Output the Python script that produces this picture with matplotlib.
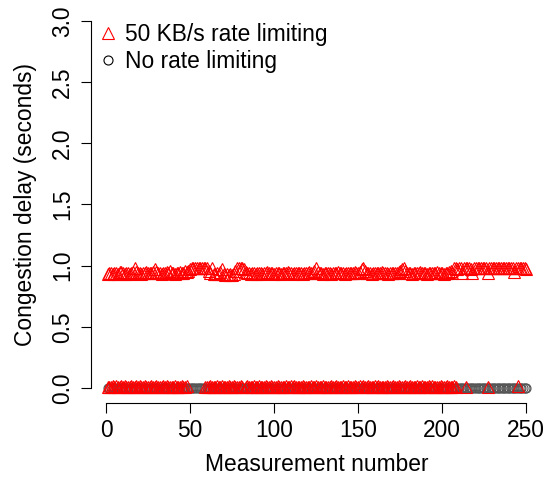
import matplotlib
matplotlib.use("Agg")
import matplotlib.pyplot as plt
from matplotlib.lines import Line2D

# ---- data ----
rate_high = [
    0.93,0.94,0.94,0.93,0.94,0.94,0.93,0.95,0.95,0.94,0.93,0.94,0.94,0.93,0.94,0.95,0.98,0.95,0.94,0.94,0.93,0.94,0.94,0.95,0.94,
    0.94,0.94,0.95,0.97,0.95,0.94,0.94,0.93,0.94,0.94,0.95,0.94,0.96,0.94,0.94,0.93,0.94,0.94,0.95,0.94,0.94,0.96,0.95,0.96,0.97,
    0.98,0.98,0.98,0.98,0.98,0.98,0.98,0.98,0.98,0.98,0.96,0.94,0.98,0.93,0.93,0.94,0.93,0.95,0.97,0.93,0.92,0.93,0.92,0.93,0.92,
    0.93,0.96,0.98,0.98,0.98,0.98,0.97,0.95,0.94,0.94,0.93,0.94,0.94,0.93,0.94,0.94,0.94,0.93,0.94,0.94,0.95,0.94,0.94,0.94,0.93,
    0.94,0.94,0.94,0.93,0.94,0.94,0.94,0.95,0.94,0.94,0.93,0.94,0.94,0.94,0.94,0.94,0.93,0.94,0.94,0.94,0.95,0.94,0.94,0.96,0.98,
    0.95,0.94,0.94,0.93,0.94,0.94,0.94,0.94,0.93,0.94,0.94,0.94,0.95,0.94,0.94,0.94,0.93,0.94,0.94,0.94,0.94,0.94,0.95,0.94,0.94,
    0.95,0.97,0.98,0.96,0.94,0.94,0.94,0.93,0.94,0.94,0.94,0.94,0.94,0.95,0.94,0.94,0.94,0.93,0.94,0.94,0.94,0.94,0.94,0.95,0.96,
    0.97,0.98,0.96,0.94,0.94,0.94,0.93,0.94,0.94,0.94,0.94,0.95,0.94,0.94,0.94,0.93,0.94,0.94,0.94,0.94,0.94,0.95,0.94,0.94,0.94,
    0.93,0.94,0.94,0.95,0.96,0.94,0.98,0.98,0.97,0.98,0.98,0.94,0.98,0.98,0.98,0.98,0.97,0.94,0.98,0.98,0.98,0.98,0.98,0.98,0.98,
    0.98,0.94,0.98,0.98,0.98,0.98,0.98,0.98,0.98,0.98,0.98,0.98,0.98,0.98,0.98,0.98,0.98,0.95,0.98,0.98,0.98,0.98,0.98,0.98,0.97,
]
rate_high_x = list(range(1, 251))

rate_low_x = list(range(1, 49)) + list(range(59, 82)) + list(range(83, 209)) + [214, 227, 245]
rate_low = [
    0.010,0.012,0.008,0.015,0.011,0.020,0.009,0.011,0.013,0.010,0.016,0.009,0.012,0.010,0.018,0.011,0.008,0.013,0.010,0.014,
    0.011,0.009,0.017,0.010,0.012,0.008,0.014,0.011,0.010,0.019,0.009,0.012,0.010,0.013,0.008,0.015,0.011,0.010,0.012,0.009,
    0.016,0.010,0.011,0.008,0.013,0.010,0.012,0.018,0.009,0.011,0.010,0.014,0.009,0.012,0.010,0.017,0.011,0.008,0.013,0.010,
    0.012,0.009,0.015,0.010,0.011,0.013,0.008,0.012,0.010,0.019,0.011,0.009,0.014,0.010,0.012,0.008,0.016,0.011,0.010,0.013,
    0.010,0.012,0.009,0.017,0.011,0.010,0.013,0.008,0.012,0.010,0.015,0.009,0.011,0.012,0.010,0.018,0.009,0.011,0.013,0.010,
    0.014,0.010,0.012,0.008,0.011,0.016,0.010,0.009,0.012,0.010,0.013,0.011,0.008,0.019,0.010,0.012,0.009,0.014,0.011,0.010,
    0.012,0.008,0.015,0.010,0.011,0.013,0.009,0.012,0.010,0.017,0.011,0.009,0.013,0.010,0.012,0.008,0.016,0.011,0.010,0.014,
    0.010,0.013,0.009,0.012,0.018,0.010,0.011,0.008,0.013,0.010,0.015,0.009,0.012,0.011,0.010,0.014,0.009,0.012,0.010,0.016,
    0.011,0.009,0.013,0.010,0.012,0.008,0.017,0.011,0.010,0.013,0.009,0.012,0.010,0.015,0.011,0.008,0.014,0.010,0.012,0.009,
    0.013,0.010,0.016,0.009,0.011,0.012,0.010,0.018,0.009,0.011,0.010,0.014,0.009,0.012,0.010,0.013,0.011,0.012,0.010,0.014,
]

no_rate_x = list(range(1, 251))
no_rate = [
    0.002,0.003,0.002,0.001,0.002,0.003,0.002,0.002,0.001,0.002,0.003,0.002,0.002,0.001,0.002,0.002,0.003,0.002,0.001,0.002,0.002,0.003,0.002,0.002,0.001,
    0.002,0.002,0.003,0.002,0.001,0.002,0.002,0.003,0.002,0.002,0.001,0.002,0.003,0.002,0.002,0.002,0.001,0.002,0.003,0.002,0.002,0.002,0.001,0.002,0.003,
    0.002,0.003,0.002,0.001,0.002,0.003,0.002,0.002,0.001,0.002,0.003,0.002,0.002,0.001,0.002,0.002,0.003,0.002,0.001,0.002,0.002,0.003,0.002,0.002,0.001,
    0.002,0.002,0.003,0.002,0.001,0.002,0.002,0.003,0.002,0.002,0.001,0.002,0.003,0.002,0.002,0.002,0.001,0.002,0.003,0.002,0.002,0.002,0.001,0.002,0.003,
    0.002,0.003,0.002,0.001,0.002,0.003,0.002,0.002,0.001,0.002,0.003,0.002,0.002,0.001,0.002,0.002,0.003,0.002,0.001,0.002,0.002,0.003,0.002,0.002,0.001,
    0.002,0.002,0.003,0.002,0.001,0.002,0.002,0.003,0.002,0.002,0.001,0.002,0.003,0.002,0.002,0.002,0.001,0.002,0.003,0.002,0.002,0.002,0.001,0.002,0.003,
    0.002,0.003,0.002,0.001,0.002,0.003,0.002,0.002,0.001,0.002,0.003,0.002,0.002,0.001,0.002,0.002,0.003,0.002,0.001,0.002,0.002,0.003,0.002,0.002,0.001,
    0.002,0.002,0.003,0.002,0.001,0.002,0.002,0.003,0.002,0.002,0.001,0.002,0.003,0.002,0.002,0.002,0.001,0.002,0.003,0.002,0.002,0.002,0.001,0.002,0.003,
    0.002,0.003,0.002,0.001,0.002,0.003,0.002,0.002,0.001,0.002,0.003,0.002,0.002,0.001,0.002,0.002,0.003,0.002,0.001,0.002,0.002,0.003,0.002,0.002,0.001,
    0.002,0.002,0.003,0.002,0.001,0.002,0.002,0.003,0.002,0.002,0.001,0.002,0.003,0.002,0.002,0.002,0.001,0.002,0.003,0.002,0.002,0.002,0.001,0.002,0.003,
]

x_ticks = [0, 50, 100, 150, 200, 250]
y_ticks = [0.0, 0.5, 1.0, 1.5, 2.0, 2.5, 3.0]
labels = ["50 KB/s rate limiting", "No rate limiting"]

# ---- plot ----
plt.rcParams['font.family'] = ['Liberation Sans', 'DejaVu Sans']
FS = 16.4

fig = plt.figure(figsize=(5.47, 4.83), dpi=100)
ax = fig.add_axes([91/547, 1 - 402.7/483, (543 - 91)/547, (402.7 - 6.3)/483])

ax.plot(no_rate_x, no_rate, linestyle='none', marker='o', markersize=6.5,
        markerfacecolor='none', markeredgecolor='#555555', markeredgewidth=0.8)
ax.plot(rate_low_x, rate_low, linestyle='none', marker='^', markersize=8,
        markerfacecolor='none', markeredgecolor='red', markeredgewidth=0.8)
ax.plot(rate_high_x, rate_high, linestyle='none', marker='^', markersize=8,
        markerfacecolor='none', markeredgecolor='red', markeredgewidth=0.8)

ax.set_xlim(1 - 0.04 * 249, 250 + 0.04 * 249)
ax.set_ylim(-0.12, 3.12)

for s in ['top', 'right']:
    ax.spines[s].set_visible(False)
ax.spines['left'].set_bounds(0, 3)
ax.spines['bottom'].set_bounds(0, 250)
for s in ['left', 'bottom']:
    ax.spines[s].set_linewidth(0.8)

ax.set_xticks(x_ticks)
ax.set_xticklabels([str(v) for v in x_ticks])
ax.set_yticks(y_ticks)
ax.set_yticklabels([f"{v:.1f}" for v in y_ticks], rotation=90, va='center')
ax.tick_params(axis='both', length=7, width=0.8, labelsize=FS, pad=5)

ax.set_xlabel("Measurement number", fontsize=FS, labelpad=8)
ax.set_ylabel("Congestion delay (seconds)", fontsize=FS, labelpad=10)

handles = [
    Line2D([], [], linestyle='none', marker='^', markersize=8, markerfacecolor='none',
           markeredgecolor='red', markeredgewidth=0.8),
    Line2D([], [], linestyle='none', marker='o', markersize=6.5, markerfacecolor='none',
           markeredgecolor='black', markeredgewidth=0.8),
]
ax.legend(handles, labels, loc='upper left', bbox_to_anchor=(87.4/547, 1 - 12/483),
          bbox_transform=fig.transFigure, frameon=False, fontsize=FS,
          handlelength=0.8, handletextpad=0.33, labelspacing=0.15, borderpad=0)

fig.savefig("out.png", dpi=100)
